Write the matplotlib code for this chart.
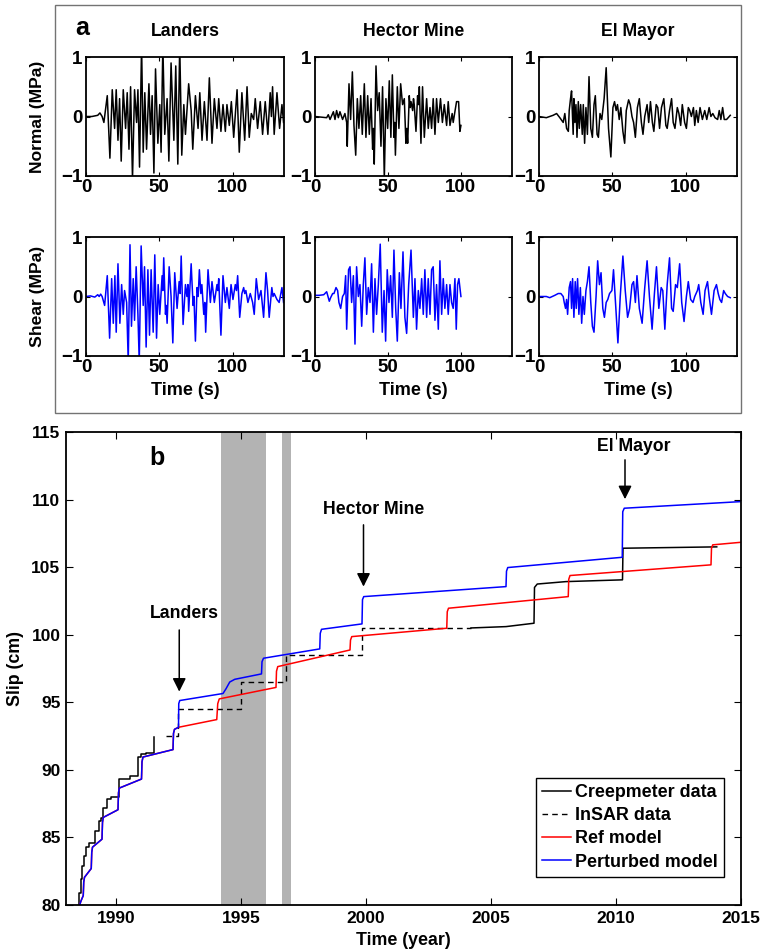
import matplotlib
matplotlib.use("Agg")
import matplotlib.pyplot as plt
import numpy as np
from matplotlib.patches import Rectangle

plt.rcParams['font.family'] = ['Liberation Sans', 'DejaVu Sans']
plt.rcParams['font.weight'] = 'bold'
plt.rcParams['axes.labelweight'] = 'bold'
plt.rcParams['axes.titleweight'] = 'bold'
plt.rcParams['axes.unicode_minus'] = True

# ---------------- data: panel a (time s, stress MPa) ----------------
EVENTS = ["Landers", "Hector Mine", "El Mayor"]

LANDERS_NORMAL = [(0, 0), (4, 0), (8, 0.02), (9.5, 0.06), (11, 0.0), (12.2, -0.1), (14.5, 0.35), (16.3, -0.7),
    (17.9, 0.45), (19.5, -0.2), (20.6, 0.45), (21.8, -0.4), (22.9, 0.3), (24.0, -0.75), (25.4, 0.45),
    (27.0, -0.2), (28.1, 0.4), (29.3, -0.55), (30.4, 0.5), (31.7, -1.05), (33.1, 0.45), (34.5, -0.1),
    (35.4, 0.45), (36.5, -0.85), (37.9, 1.2), (39.0, -0.6), (40.1, 0.4), (41.3, -0.55), (42.9, 0.55),
    (44.0, -0.3), (45.1, 0.35), (46.3, -0.95), (47.4, 0.8), (49.0, -0.45), (50.3, 0.2), (51.2, -0.6),
    (52.4, 1.2), (53.7, -0.3), (55.3, 0.3), (56.5, -0.75), (58.0, 0.9), (59.9, -0.4), (61.2, 0.85),
    (62.6, -0.8), (63.9, 1.2), (65.3, -0.65), (66.7, 0.2), (67.8, -0.3), (70.0, 0.55), (71.7, 0.1),
    (72.8, -0.55), (74.6, 0.35), (76.4, -0.2), (77.6, 0.4), (79.1, -0.4), (80.7, 0.25), (82.5, -0.4),
    (84.1, 0.65), (85.9, -0.45), (87.5, 0.3), (89.3, -0.2), (90.5, 0.3), (92.0, -0.25), (93.4, 0.2),
    (95.0, -0.25), (96.1, 0.2), (97.7, -0.15), (99.1, 0.25), (100.7, -0.35), (103.0, 0.45), (104.5, -0.6),
    (106.3, 0.4), (108.2, -0.4), (109.8, 0.5), (111.3, -0.35), (112.7, 0.05), (114.3, -0.05), (115.4, 0.3),
    (117.0, -0.2), (118.8, 0.25), (120.4, -0.3), (122.2, 0.25), (124.0, -0.3), (125.6, 0.4), (126.4, 0.0),
    (127.2, 0.5), (128.3, -0.3), (130.2, 0.4), (132.0, -0.2), (133.6, 0.2), (134.7, -0.1)]

LANDERS_SHEAR = [(0, 0), (3, 0.01), (6, -0.01), (8, 0.03), (9, 0.0), (10, 0.04), (11, 0.0), (12.7, -0.15),
    (14.5, 0.35), (16.1, -0.7), (17.5, 0.3), (18.6, -0.45), (19.7, 0.35), (20.6, -0.6), (21.8, 0.55),
    (23.1, -0.45), (24.3, 0.2), (25.4, -0.3), (26.3, 0.1), (27.7, -0.1), (28.8, -1.1), (30.0, 0.87),
    (31.0, -0.5), (32.2, 0.3), (33.1, -0.4), (34.2, 0.5), (35.4, -0.3), (36.3, -1.1), (37.6, 0.85),
    (39.0, -0.15), (39.9, 0.5), (41.0, -0.85), (42.2, 0.45), (43.3, -0.65), (44.4, 0.45), (45.8, -0.6),
    (46.9, 0.7), (48.1, -0.7), (49.2, 0.2), (50.3, -0.3), (51.9, 0.35), (52.4, 0.1), (53.0, 0.65),
    (54.2, -0.3), (54.7, -0.15), (55.3, -0.45), (56.7, 0.5), (58.0, 0.0), (59.2, -0.78), (60.5, 0.4),
    (62.1, -0.2), (63.5, 0.25), (64.2, 0.05), (64.9, 0.68), (66.2, -0.47), (67.8, 0.2), (68.8, 0.0),
    (69.5, 0.2), (70.0, -0.25), (71.7, 0.55), (73.0, -0.15), (73.6, 0.0), (74.6, -0.75), (75.7, 0.15),
    (76.5, 0.0), (77.3, 0.45), (78.3, 0.05), (79.0, 0.2), (80.3, -0.3), (81.0, -0.1), (81.6, -0.6),
    (83.2, 0.45), (84.8, -0.1), (85.9, 0.25), (87.5, -0.1), (89.3, 0.2), (89.9, 0.1), (90.5, 0.3),
    (92.0, -0.65), (93.4, 0.35), (95.0, -0.1), (96.1, 0.15), (97.7, -0.2), (98.9, 0.2), (100.2, -0.05),
    (101.8, 0.2), (102.6, 0.1), (103.4, 0.35), (104.8, -0.35), (106.3, 0.05), (107.5, 0.15), (108.2, 0.05),
    (109.0, 0.1), (110.4, -0.1), (112.0, 0.05), (113.6, -0.1), (114.7, -0.3), (116.1, 0.3), (117.7, -0.05),
    (119.3, 0.1), (121.1, -0.35), (122.7, 0.4), (123.8, 0.1), (124.9, -0.35), (126.7, 0.15), (127.5, 0.0),
    (128.3, 0.05), (130.2, -0.05), (131.7, -0.1), (133.6, 0.15), (134.7, -0.1)]

HECTOR_NORMAL = [(0, 0), (4, -0.01), (8, -0.02), (9.1, 0.03), (10.3, -0.05), (12.6, 0.08), (13.7, -0.05),
    (14.8, 0.1), (16, -0.02), (17.1, 0.08), (18.9, -0.05), (20.5, 0.05), (21.7, -0.1), (22.1, -0.5),
    (23.3, 0.55), (24.4, -0.05), (25.6, 0.75), (26.7, -0.15), (27.9, -0.65), (29.0, 0.3), (30.1, -0.2),
    (31.3, 0.35), (32.4, -0.3), (33.8, 0.55), (34.9, -0.35), (36.1, 0.35), (37.2, -0.3), (38.4, 0.3),
    (39.5, -0.55), (40.0, -0.2), (40.6, -0.8), (41.8, 0.85), (42.9, 0.1), (44.0, 0.4), (45.2, -0.5),
    (46.3, 0.5), (47.5, -1.05), (48.6, 0.3), (49.8, -0.2), (50.9, 0.6), (52.0, -0.35), (53.0, 0.7),
    (54.1, -0.35), (54.6, -0.1), (55.1, -0.65), (56.4, 0.5), (57.5, -0.2), (58.7, 0.55), (60.0, 0.2),
    (61.2, 0.3), (62.3, -0.45), (62.9, -0.2), (63.5, -0.45), (64.6, 0.35), (65.2, 0.15), (65.8, 0.25),
    (66.9, 0.1), (67.5, 0.3), (68.0, 0.2), (69.2, -0.25), (70.3, 0.35), (71.0, 0.2), (71.5, 0.5),
    (72.6, -0.45), (73.7, 0.5), (74.9, -0.35), (76.5, 0.3), (77.6, -0.2), (78.8, 0.15), (79.9, -0.2),
    (81.0, 0.3), (82.2, -0.3), (83.3, 0.3), (84.5, -0.1), (86.0, 0.3), (87.3, -0.1), (88.6, 0.2),
    (90.2, -0.15), (91.3, 0.25), (92.5, -0.15), (94.0, 0.05), (94.7, -0.1), (96.0, 0.1), (97.0, 0.25),
    (98.4, 0.25), (99.3, -0.25), (100.0, -0.15)]

HECTOR_SHEAR = [(0, 0.02), (3, 0.02), (6, 0.03), (6.8, 0.05), (8, 0.08), (9.8, -0.08), (10.7, -0.02),
    (12.1, 0.05), (13.0, 0.05), (14.4, 0.15), (15.5, 0.1), (16.4, -0.1), (17.6, -0.2), (18.9, 0.0),
    (20.1, 0.05), (21.0, 0.35), (21.7, -0.55), (23.0, 0.45), (24.0, 0.5), (25.1, -0.1), (26.3, 0.35),
    (27.4, -0.8), (28.5, 0.5), (29.7, 0.0), (30.8, 0.2), (32.0, -0.5), (33.1, 0.2), (34.2, 0.65),
    (35.4, -0.3), (36.5, 0.15), (37.7, -0.1), (38.8, 0.55), (40.0, -0.6), (41.1, 0.3), (42.2, -0.3),
    (43.4, 0.2), (44.7, 0.88), (46.1, -0.6), (47.3, 0.1), (48.4, -0.75), (49.5, 0.45), (50.7, -0.1),
    (51.8, 0.35), (53.0, -0.35), (54.1, 0.78), (55.3, -0.2), (56.4, -0.75), (57.8, 0.4), (58.9, -0.2),
    (60.3, 0.75), (61.6, -0.35), (62.8, -0.62), (64.2, 0.2), (65.8, 0.78), (67.4, -0.35), (68.5, 0.3),
    (69.6, -0.55), (70.8, 0.1), (71.9, -0.2), (73.1, 0.3), (74.2, -0.3), (75.3, 0.45), (76.5, -0.35),
    (77.6, 0.3), (78.8, -0.3), (79.9, 0.45), (81.0, 0.5), (82.2, -0.4), (83.3, 0.2), (84.5, -0.55),
    (85.6, 0.6), (86.8, -0.3), (87.9, 0.3), (89.0, -0.2), (90.2, 0.2), (91.3, -0.3), (92.5, 0.2),
    (93.6, -0.1), (94.7, -0.2), (95.9, 0.3), (96.8, -0.55), (97.7, 0.2), (98.6, 0.3), (100.0, 0.0)]

ELMAYOR_NORMAL = [(0, 0), (5, -0.02), (9.6, 0.02), (12.0, 0.05), (14.2, -0.02), (16.5, -0.1), (17.6, 0.05),
    (18.8, -0.2), (20.0, -0.25), (20.6, 0.1), (21.5, 0.3), (22.2, 0.43), (23.3, -0.3), (23.8, 0.3),
    (24.5, -0.1), (25.2, 0.2), (25.9, -0.35), (26.8, 0.25), (27.5, -0.2), (28.4, 0.2), (29.5, -0.3),
    (30.2, 0.2), (31.1, -0.45), (32.0, 0.15), (33.0, -0.3), (34.1, 0.67), (35.3, -0.2), (36.4, -0.35),
    (37.5, 0.2), (38.4, 0.35), (39.6, -0.3), (40.5, -0.35), (41.6, 0.05), (42.8, -0.05), (44.4, 0.3),
    (45.8, 0.82), (47.4, -0.2), (49.0, -0.68), (50.4, 0.15), (51.5, 0.25), (52.6, 0.1), (53.5, 0.2),
    (54.7, -0.05), (55.8, 0.15), (57.2, -0.25), (58.4, -0.45), (59.5, 0.1), (61.1, 0.28), (62.2, 0.2),
    (63.4, 0.0), (64.5, -0.1), (65.7, -0.35), (67.1, 0.15), (68.4, 0.3), (69.8, -0.1), (70.9, -0.3),
    (72.1, 0.0), (73.7, 0.2), (74.8, -0.1), (76.0, 0.25), (77.3, -0.1), (78.3, -0.25), (79.9, 0.2),
    (81.0, 0.15), (82.2, -0.2), (83.5, 0.15), (85.1, 0.3), (86.5, -0.15), (87.4, -0.2), (89.0, 0.1),
    (90.4, 0.3), (91.5, -0.1), (92.7, -0.2), (94.3, 0.15), (95.4, 0.05), (96.6, -0.15), (97.7, 0.2),
    (99.3, -0.1), (100.5, -0.2), (101.8, 0.15), (102.8, 0.1), (103.9, 0.0), (105.3, 0.15), (106.2, -0.15),
    (107.3, 0.1), (108.5, -0.1), (109.8, 0.15), (111.4, -0.05), (113.0, 0.1), (114.4, -0.05), (116.0, 0.15),
    (117.2, 0.0), (118.5, 0.05), (120.0, -0.02), (121.8, -0.05), (122.9, 0.1), (124.0, -0.05), (125.2, 0.15),
    (126.3, -0.05), (127.9, -0.05), (129.7, 0.0), (130.4, 0.02)]

ELMAYOR_SHEAR = [(0, 0), (5, 0.0), (7.3, -0.02), (10.8, 0.02), (13.1, 0.05), (14.9, 0.05), (16.5, 0.0),
    (17.2, -0.1), (18.1, -0.2), (18.8, -0.05), (19.5, -0.3), (20.6, 0.15), (21.5, 0.25), (22.2, -0.2),
    (22.9, 0.3), (23.8, -0.35), (24.7, 0.25), (25.4, -0.2), (26.3, 0.3), (27.2, -0.3), (28.2, 0.15),
    (29.1, -0.45), (30.0, 0.0), (30.9, -0.3), (32.0, 0.1), (33.0, 0.25), (34.1, 0.5), (35.3, -0.1),
    (36.4, -0.5), (37.5, -0.6), (38.9, 0.0), (40.0, 0.6), (41.2, 0.2), (42.3, 0.4), (43.5, -0.2),
    (44.6, -0.35), (45.8, -0.1), (46.9, -0.05), (48.1, 0.05), (49.7, 0.1), (50.8, 0.45), (52.4, -0.2),
    (53.8, -0.78), (55.4, 0.0), (57.2, 0.68), (58.8, 0.1), (60.4, -0.35), (61.8, -0.2), (63.4, 0.2),
    (64.5, 0.25), (65.7, -0.1), (66.8, 0.35), (68.4, -0.2), (70.3, -0.45), (72.1, 0.15), (73.7, 0.6),
    (75.3, 0.0), (77.1, -0.55), (78.7, 0.05), (80.1, 0.5), (81.7, -0.2), (83.3, 0.15), (84.4, 0.1),
    (85.8, -0.55), (87.4, 0.2), (89.0, 0.65), (90.4, -0.2), (91.5, -0.25), (93.1, 0.2), (94.3, 0.15),
    (95.9, 0.55), (97.3, -0.1), (98.9, -0.42), (100.5, 0.0), (101.8, 0.25), (103.4, -0.05), (105.0, -0.1),
    (106.2, 0.0), (108.0, 0.1), (108.9, 0.2), (110.3, -0.1), (111.9, -0.3), (113.2, 0.1), (114.9, 0.25),
    (116.0, 0.0), (117.6, -0.3), (119.4, 0.1), (121.0, 0.2), (122.2, 0.05), (123.3, -0.05), (124.5, -0.1),
    (125.9, 0.1), (127.0, 0.05), (128.6, 0.0), (130.4, -0.02)]

# ---------------- data: panel b (year, slip cm) ----------------
CREEP_YEAR_1 = [1988.40, 1988.50, 1988.58, 1988.65, 1988.72, 1988.80, 1988.90, 1989.16, 1989.30, 1989.38,
                1989.49, 1989.65, 1989.80, 1990.12, 1990.55, 1990.87, 1991.00, 1991.20, 1991.53]
CREEP_SLIP_1 = [79.5, 80.9, 81.9, 82.85, 83.6, 84.3, 84.6, 85.45, 86.2, 86.45,
                87.2, 87.85, 88.0, 89.35, 89.55, 90.95, 91.15, 91.25, 92.45]
CREEP_2 = [(2004.2, 100.5), (2005.6, 100.6), (2006.72, 100.85), (2006.74, 103.5), (2006.85, 103.75),
           (2008.0, 103.93), (2010.26, 104.06), (2010.28, 106.4), (2014.03, 106.5)]

INSAR_YEAR = [1992.0, 1992.49, 1995.01, 1996.8, 1999.83, 2004.2]
INSAR_SLIP = [92.5, 94.5, 96.5, 98.5, 100.5, 100.5]

PERTURBED_MODEL = [(1988.47, 79.6), (1988.60, 80.3), (1988.69, 80.7), (1988.71, 81.7), (1988.74, 82.05),
    (1989.01, 82.7), (1989.03, 83.9), (1989.06, 84.28),
    (1989.44, 84.87), (1989.46, 86.1), (1989.49, 86.48),
    (1990.08, 87.05), (1990.10, 88.3), (1990.13, 88.65),
    (1991.02, 89.32), (1991.04, 90.6), (1991.08, 90.95),
    (1992.28, 91.5), (1992.30, 92.7), (1992.34, 93.0),
    (1992.50, 93.15), (1992.51, 94.9), (1992.55, 95.13),
    (1994.28, 95.65), (1994.40, 96.0), (1994.55, 96.5), (1994.75, 96.7),
    (1995.82, 97.1), (1995.84, 98.0), (1995.90, 98.26),
    (1998.15, 98.95), (1998.17, 100.1), (1998.22, 100.4),
    (1999.84, 100.8), (1999.86, 102.6), (1999.91, 102.82),
    (2005.60, 103.56), (2005.62, 104.7), (2005.67, 104.97),
    (2010.25, 105.73), (2010.27, 109.1), (2010.33, 109.36),
    (2015.0, 109.85)]

REF_MODEL = [(1988.47, 79.6), (1988.60, 80.3), (1988.69, 80.7), (1988.71, 81.7), (1988.74, 82.05),
    (1989.01, 82.7), (1989.03, 83.9), (1989.06, 84.28),
    (1989.44, 84.87), (1989.46, 86.1), (1989.49, 86.48),
    (1990.08, 87.05), (1990.10, 88.3), (1990.13, 88.65),
    (1991.02, 89.32), (1991.04, 90.6), (1991.08, 90.95),
    (1992.28, 91.5), (1992.30, 92.7), (1992.34, 93.0),
    (1992.50, 93.15), (1994.03, 93.72), (1994.07, 94.9), (1994.13, 95.25),
    (1996.40, 96.1), (1996.42, 97.3), (1996.47, 97.64),
    (1999.36, 98.87), (1999.38, 99.6), (1999.43, 99.86),
    (2003.23, 100.48), (2003.25, 101.7), (2003.30, 101.96),
    (2008.09, 102.82), (2008.11, 104.1), (2008.16, 104.38),
    (2013.80, 105.17), (2013.82, 106.4), (2013.87, 106.65),
    (2015.0, 106.84)]

GAP_YEARS = [(1994.2, 1996.0), (1996.63, 1997.0)]
EVENT_YEARS = [1992.53, 1999.9, 2010.36]
ARROW_TOP = [100.35, 108.13, 112.94]
ARROW_TIP = [95.79, 103.56, 110.03]
LABEL_YEAR = [1992.72, 2000.32, 2010.71]
LABEL_SLIP = [101.6, 109.24, 113.9]

# ---------------- figure ----------------
W, H = 761, 951
fig = plt.figure(figsize=(W / 100, H / 100), dpi=100)


def ax_px(x0, y0, x1, y1):
    return fig.add_axes([x0 / W, 1 - y1 / H, (x1 - x0) / W, (y1 - y0) / H])


fig.patches.append(Rectangle((55 / W, 1 - 413 / H), 686 / W, 408 / H, transform=fig.transFigure,
                             fill=False, ec='0.45', lw=1.0))

cols = [(86, 284), (315, 512), (539, 737)]
rows = [(57, 176), (237, 356)]
waves = [[LANDERS_NORMAL, HECTOR_NORMAL, ELMAYOR_NORMAL],
         [LANDERS_SHEAR, HECTOR_SHEAR, ELMAYOR_SHEAR]]
colors = ['black', 'blue']
ylabels = ['Normal (MPa)', 'Shear (MPa)']

for r, (y0, y1) in enumerate(rows):
    for c, (x0, x1) in enumerate(cols):
        ax = ax_px(x0, y0, x1, y1)
        arr = np.array(waves[r][c])
        ax.plot(arr[:, 0], arr[:, 1], color=colors[r], lw=1.1)
        ax.set_xlim(0, 135)
        ax.set_ylim(-1, 1)
        ax.set_xticks([0, 50, 100])
        ax.set_yticks([-1, 0, 1])
        ax.tick_params(direction='in', top=True, right=True, length=3, width=0.8,
                       labelsize=13.5, pad=2.5)
        for s in ax.spines.values():
            s.set_linewidth(1.3)
        if r == 0:
            ax.set_title(EVENTS[c], fontsize=12.7, fontweight='bold', pad=15)
        if c == 0:
            ax.set_ylabel(ylabels[r], fontsize=12.6)
            ax.yaxis.set_label_coords(-0.207, 0.5)
        if r == 1:
            ax.set_xlabel('Time (s)', fontsize=13)
            ax.xaxis.set_label_coords(0.5, -0.215)

fig.text(75 / W, 1 - 28 / H, 'a', fontsize=18, fontweight='bold', ha='left', va='center')

# ---------------- panel b ----------------
axb = ax_px(66, 432, 741, 905)
for g0, g1 in GAP_YEARS:
    axb.axvspan(g0, g1, color='0.7', lw=0, zorder=0)

axb.plot(CREEP_YEAR_1, CREEP_SLIP_1, color='black', lw=1.1, drawstyle='steps-post',
         label='Creepmeter data')
c2 = np.array(CREEP_2)
axb.plot(c2[:, 0], c2[:, 1], color='black', lw=1.1)
axb.plot(INSAR_YEAR, INSAR_SLIP, color='black', lw=1.0, ls=(0, (4, 3)), drawstyle='steps-post',
         label='InSAR data')
rm = np.array(REF_MODEL)
axb.plot(rm[:, 0], rm[:, 1], color='red', lw=1.1, label='Ref model')
pm = np.array(PERTURBED_MODEL)
axb.plot(pm[:, 0], pm[:, 1], color='blue', lw=1.1, label='Perturbed model')

for name, ex, top, tip, lx, ly in zip(EVENTS, EVENT_YEARS, ARROW_TOP, ARROW_TIP, LABEL_YEAR, LABEL_SLIP):
    axb.annotate('', xy=(ex, tip), xytext=(ex, top),
                 arrowprops=dict(arrowstyle='-|>', color='black', lw=1.1, mutation_scale=20,
                                 shrinkA=0, shrinkB=0))
    axb.text(lx, ly, name, fontsize=12.7, fontweight='bold', ha='center', va='center')

axb.set_xlim(1988, 2015)
axb.set_ylim(80, 115)
axb.set_xticks([1990, 1995, 2000, 2005, 2010, 2015])
axb.set_yticks([80, 85, 90, 95, 100, 105, 110, 115])
axb.tick_params(direction='in', top=True, right=True, length=5, width=0.8, labelsize=12.5, pad=4)
for s in axb.spines.values():
    s.set_linewidth(1.3)
axb.set_xlabel('Time (year)', fontsize=12.8)
axb.xaxis.set_label_coords(0.5, -0.057)
axb.set_ylabel('Slip (cm)', fontsize=12.8)
axb.yaxis.set_label_coords(-0.062, 0.5)
axb.text(83 / 675, 1 - 26 / 473, 'b', transform=axb.transAxes, fontsize=18, fontweight='bold',
         ha='left', va='center')

leg = axb.legend(loc='lower right', bbox_to_anchor=(724 / W, 1 - 877 / H), bbox_transform=fig.transFigure,
                 borderaxespad=0, fancybox=False, edgecolor='black', framealpha=1,
                 prop=dict(size=12.9, weight='bold'), handlelength=1.6, handletextpad=0.25,
                 labelspacing=0.35, borderpad=0.35)
leg.get_frame().set_linewidth(1.0)

fig.savefig('out.png', dpi=100)
